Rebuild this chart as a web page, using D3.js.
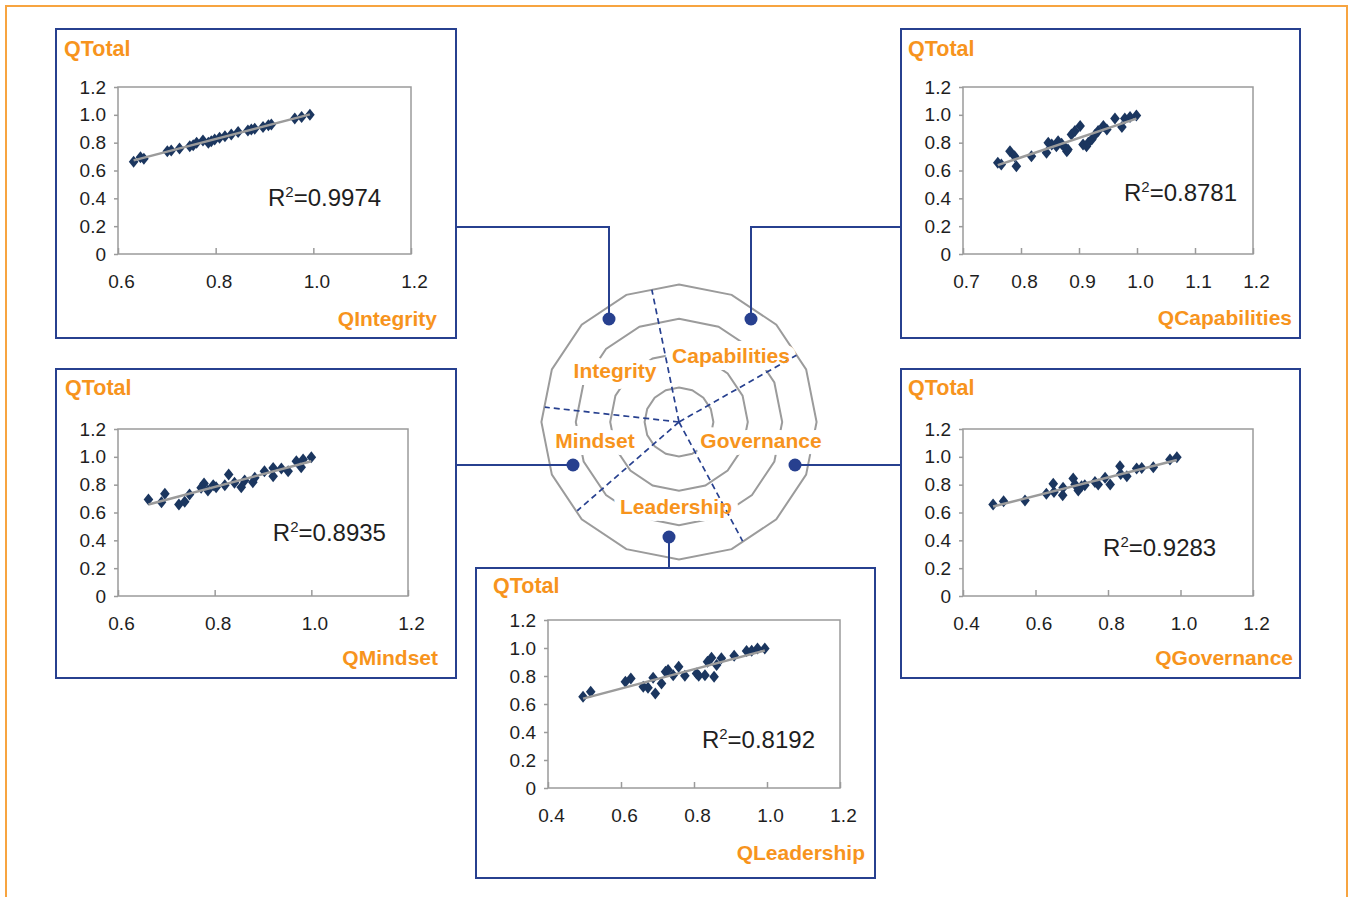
<!DOCTYPE html>
<html>
<head>
<meta charset="utf-8">
<script src="https://cdn.jsdelivr.net/npm/d3@7"></script>
<style>
  body { margin: 0; background: #fff; }
  svg { display: block; }
  text { font-family: "Liberation Sans", Arial, Helvetica, sans-serif; }
</style>
</head>
<body>
<svg id="chart" width="1350" height="897"></svg>
<script>
// ---- data -------------------------------------------------------------
const dimensions = ["Integrity", "Capabilities", "Mindset", "Governance", "Leadership"];
const axisTitles = ["QIntegrity", "QCapabilities", "QMindset", "QGovernance", "QLeadership"];
const rSquared = ["0.9974", "0.8781", "0.8935", "0.9283", "0.8192"];

// [dimension score, total score]
const integrityPoints = [
  [0.632, 0.662], [0.646, 0.696], [0.653, 0.684], [0.701, 0.739], [0.709, 0.744],
  [0.726, 0.758], [0.747, 0.775], [0.754, 0.782], [0.761, 0.799], [0.774, 0.816],
  [0.785, 0.799], [0.791, 0.811], [0.798, 0.823], [0.808, 0.835], [0.819, 0.847],
  [0.832, 0.859], [0.846, 0.876], [0.866, 0.888], [0.873, 0.895], [0.880, 0.900],
  [0.897, 0.912], [0.908, 0.926], [0.914, 0.931], [0.962, 0.974], [0.976, 0.984],
  [0.993, 1.000]
];
const capabilitiesPoints = [
  [0.760, 0.655], [0.766, 0.643], [0.781, 0.739], [0.789, 0.703], [0.792, 0.631],
  [0.818, 0.703], [0.844, 0.727], [0.847, 0.799], [0.853, 0.787], [0.861, 0.775],
  [0.864, 0.811], [0.870, 0.792], [0.876, 0.763], [0.879, 0.739], [0.881, 0.751],
  [0.887, 0.859], [0.893, 0.883], [0.902, 0.919], [0.907, 0.787], [0.913, 0.775],
  [0.916, 0.799], [0.922, 0.823], [0.928, 0.859], [0.933, 0.883], [0.942, 0.919],
  [0.948, 0.895], [0.962, 0.974], [0.974, 0.912], [0.979, 0.974], [0.988, 0.984],
  [0.999, 0.996]
];
const mindsetPoints = [
  [0.663, 0.693], [0.690, 0.674], [0.697, 0.734], [0.726, 0.657], [0.738, 0.677],
  [0.748, 0.729], [0.772, 0.777], [0.778, 0.808], [0.786, 0.758], [0.797, 0.796],
  [0.803, 0.782], [0.821, 0.796], [0.829, 0.873], [0.841, 0.813], [0.855, 0.782],
  [0.862, 0.830], [0.879, 0.818], [0.883, 0.849], [0.903, 0.896], [0.921, 0.861],
  [0.921, 0.920], [0.938, 0.916], [0.952, 0.896], [0.969, 0.968], [0.979, 0.925],
  [0.983, 0.980], [1.000, 0.997]
];
const governancePoints = [
  [0.483, 0.657], [0.512, 0.681], [0.571, 0.686], [0.630, 0.734], [0.649, 0.806],
  [0.651, 0.748], [0.675, 0.724], [0.676, 0.777], [0.704, 0.844], [0.709, 0.801],
  [0.718, 0.758], [0.727, 0.789], [0.736, 0.796], [0.764, 0.820], [0.773, 0.801],
  [0.792, 0.849], [0.806, 0.801], [0.833, 0.932], [0.835, 0.877], [0.852, 0.861],
  [0.879, 0.916], [0.893, 0.920], [0.925, 0.925], [0.971, 0.980], [0.990, 0.997]
];
const leadershipPoints = [
  [0.496, 0.651], [0.517, 0.687], [0.612, 0.759], [0.627, 0.782], [0.661, 0.723],
  [0.674, 0.716], [0.688, 0.787], [0.694, 0.675], [0.711, 0.747], [0.722, 0.830],
  [0.729, 0.842], [0.743, 0.806], [0.758, 0.866], [0.775, 0.802], [0.807, 0.818],
  [0.813, 0.802], [0.830, 0.806], [0.837, 0.902], [0.848, 0.930], [0.855, 0.794],
  [0.862, 0.878], [0.875, 0.926], [0.910, 0.945], [0.944, 0.978], [0.958, 0.980],
  [0.974, 0.997], [0.994, 0.997]
];

const xDomainIntegrity = [0.6, 1.2];
const xDomainCapabilities = [0.7, 1.2];
const xDomainMindset = [0.6, 1.2];
const xDomainGovernance = [0.4, 1.2];
const xDomainLeadership = [0.4, 1.2];
const xTicksIntegrity = [0.6, 0.8, 1.0, 1.2];
const xTicksCapabilities = [0.7, 0.8, 0.9, 1.0, 1.1, 1.2];
const xTicksMindset = [0.6, 0.8, 1.0, 1.2];
const xTicksGovernance = [0.4, 0.6, 0.8, 1.0, 1.2];
const xTicksLeadership = [0.4, 0.6, 0.8, 1.0, 1.2];
const yDomain = [0, 1.2];
const yTicks = [0, 0.2, 0.4, 0.6, 0.8, 1.0, 1.2];

// directions (degrees, clockwise from east) of the dashed dividers in the wheel
const spokeAngles = [-101.6, -29.6, 61.9, 138.9, 186.3];
const ringLevels = [1, 2, 3, 4];

// ---- styles -----------------------------------------------------------
const ORANGE = "#F7941D";
const NAVY = "#27408F";
const MARKER = "#1B365F";
const GREY = "#9B9B9B";
const TEXT = "#1E1E1E";

const svg = d3.select("#chart");

// outer frame of the figure
svg.append("rect")
  .attr("x", 6).attr("y", 6).attr("width", 1341).attr("height", 905)
  .attr("fill", "none").attr("stroke", "#F7A440").attr("stroke-width", 2);

// ---- wheel in the middle ---------------------------------------------
const center = { x: 679, y: 422 };
const ringStep = 34.4;
const rad = d => d * Math.PI / 180;
const polar = (angle, r) => [center.x + r * Math.cos(rad(angle)), center.y + r * Math.sin(rad(angle))];

const wheel = svg.append("g");
const ringSides = 16;
const ringLine = d3.line().curve(d3.curveLinearClosed);
ringLevels.forEach(level => {
  const pts = d3.range(ringSides).map(i => polar(-90 + i * 360 / ringSides, level * ringStep));
  wheel.append("path")
    .attr("d", ringLine(pts))
    .attr("fill", "none").attr("stroke", GREY).attr("stroke-width", 2);
});

const wheelLabels = [
  { name: "Integrity", x: 615, y: 378 },
  { name: "Capabilities", x: 731, y: 363 },
  { name: "Mindset", x: 595, y: 448 },
  { name: "Governance", x: 761, y: 448 },
  { name: "Leadership", x: 676, y: 514 }
];
const labelById = new Map(wheelLabels.map(d => [d.name, d]));

// white halo that opens the rings around each label
wheel.selectAll("text.halo")
  .data(dimensions)
  .join("text")
  .attr("class", "halo")
  .attr("x", d => labelById.get(d).x)
  .attr("y", d => labelById.get(d).y)
  .attr("text-anchor", "middle")
  .attr("font-size", 21).attr("font-weight", "bold")
  .attr("fill", "#fff").attr("stroke", "#fff").attr("stroke-width", 14)
  .attr("stroke-linejoin", "round")
  .text(d => d);

// dashed dividers
wheel.selectAll("line.spoke")
  .data(spokeAngles)
  .join("line")
  .attr("class", "spoke")
  .attr("x1", center.x).attr("y1", center.y)
  .attr("x2", d => polar(d, 135)[0])
  .attr("y2", d => polar(d, 135)[1])
  .attr("stroke", NAVY).attr("stroke-width", 1.7)
  .attr("stroke-dasharray", "6,4");

wheel.selectAll("text.dim")
  .data(dimensions)
  .join("text")
  .attr("class", "dim")
  .attr("x", d => labelById.get(d).x)
  .attr("y", d => labelById.get(d).y)
  .attr("text-anchor", "middle")
  .attr("font-size", 21).attr("font-weight", "bold")
  .attr("fill", ORANGE)
  .text(d => d);

// ---- scatter panels ---------------------------------------------------
const panels = [
  { pts: integrityPoints, dom: xDomainIntegrity, ticks: xTicksIntegrity,
    x: 56, y: 29, w: 400, h: 309, plot: { l: 62, t: 58, w: 293, h: 167 },
    title: [8, 27], axisEnd: [381, 297], r2: [0.512, 0.713] },
  { pts: capabilitiesPoints, dom: xDomainCapabilities, ticks: xTicksCapabilities,
    x: 901, y: 29, w: 399, h: 309, plot: { l: 62, t: 58, w: 290, h: 167 },
    title: [7, 27], axisEnd: [391, 296], r2: [0.555, 0.683] },
  { pts: mindsetPoints, dom: xDomainMindset, ticks: xTicksMindset,
    x: 56, y: 369, w: 400, h: 309, plot: { l: 62, t: 60, w: 290, h: 167 },
    title: [9, 26], axisEnd: [382, 296], r2: [0.534, 0.67] },
  { pts: governancePoints, dom: xDomainGovernance, ticks: xTicksGovernance,
    x: 901, y: 369, w: 399, h: 309, plot: { l: 62, t: 60, w: 290, h: 167 },
    title: [7, 26], axisEnd: [392, 296], r2: [0.483, 0.76] },
  { pts: leadershipPoints, dom: xDomainLeadership, ticks: xTicksLeadership,
    x: 476, y: 568, w: 399, h: 310, plot: { l: 72, t: 52, w: 292, h: 168 },
    title: [17, 25], axisEnd: [389, 292], r2: [0.527, 0.762] }
];

const diamond = "M0,-6L4.8,0L0,6L-4.8,0Z";
const fmtY = d => d === 0 ? "0" : d3.format(".1f")(d);
const fmtX = d3.format(".1f");

panels.forEach((p, i) => {
  const g = svg.append("g").attr("transform", `translate(${p.x},${p.y})`);
  g.append("rect")
    .attr("width", p.w).attr("height", p.h)
    .attr("fill", "#fff").attr("stroke", NAVY).attr("stroke-width", 2);

  g.append("text")
    .attr("x", p.title[0]).attr("y", p.title[1])
    .attr("font-size", 21.5).attr("font-weight", "bold").attr("fill", ORANGE)
    .text("QTotal");
  g.append("text")
    .attr("x", p.axisEnd[0]).attr("y", p.axisEnd[1])
    .attr("text-anchor", "end")
    .attr("font-size", 21).attr("font-weight", "bold").attr("fill", ORANGE)
    .text(axisTitles[i]);

  const pg = g.append("g").attr("transform", `translate(${p.plot.l},${p.plot.t})`);
  const x = d3.scaleLinear().domain(p.dom).range([0, p.plot.w]);
  const y = d3.scaleLinear().domain(yDomain).range([p.plot.h, 0]);

  // y axis: labels and short outward ticks
  const yAx = pg.append("g").call(d3.axisLeft(y).tickValues(yTicks).tickFormat(fmtY).tickSize(4).tickPadding(8));
  yAx.select(".domain").remove();
  yAx.selectAll("line").attr("stroke", GREY).attr("stroke-width", 1.5);
  yAx.selectAll("text").attr("font-size", 19).attr("fill", TEXT)
    .attr("font-family", "\"Liberation Sans\", Arial, sans-serif");

  // x axis: labels below, ticks pointing into the plot
  const xAx = pg.append("g").attr("transform", `translate(0,${p.plot.h})`)
    .call(d3.axisBottom(x).tickValues(p.ticks).tickFormat(fmtX).tickSize(-6).tickPadding(21));
  xAx.select(".domain").remove();
  xAx.selectAll("line").attr("stroke", GREY).attr("stroke-width", 1.5);
  xAx.selectAll("text").attr("font-size", 19).attr("fill", TEXT)
    .attr("dx", 3)
    .attr("font-family", "\"Liberation Sans\", Arial, sans-serif");

  pg.append("rect")
    .attr("width", p.plot.w).attr("height", p.plot.h)
    .attr("fill", "none").attr("stroke", GREY).attr("stroke-width", 1.5);

  pg.selectAll("path.pt")
    .data(p.pts)
    .join("path")
    .attr("class", "pt")
    .attr("d", diamond)
    .attr("transform", d => `translate(${x(d[0])},${y(d[1])})`)
    .attr("fill", MARKER);

  // least-squares trend line over the observed range
  const mx = d3.mean(p.pts, d => d[0]);
  const my = d3.mean(p.pts, d => d[1]);
  const slope = d3.sum(p.pts, d => (d[0] - mx) * (d[1] - my)) / d3.sum(p.pts, d => (d[0] - mx) ** 2);
  const icpt = my - slope * mx;
  const [x0, x1] = d3.extent(p.pts, d => d[0]);
  pg.append("line")
    .attr("x1", x(x0)).attr("y1", y(icpt + slope * x0))
    .attr("x2", x(x1)).attr("y2", y(icpt + slope * x1))
    .attr("stroke", GREY).attr("stroke-width", 2.5);

  const r2 = pg.append("text")
    .attr("x", p.r2[0] * p.plot.w).attr("y", p.r2[1] * p.plot.h)
    .attr("font-size", 24).attr("fill", TEXT);
  r2.append("tspan").text("R");
  r2.append("tspan").attr("font-size", 15).attr("dy", -9).text("2");
  r2.append("tspan").attr("dy", 9).text("=" + rSquared[i]);
});

// ---- connectors from the wheel to each panel -------------------------
const connectors = [
  { dot: [609, 319], path: [[609, 319], [609, 227], [456, 227]] },
  { dot: [751, 319], path: [[751, 319], [751, 227], [901, 227]] },
  { dot: [573, 465], path: [[573, 465], [456, 465]] },
  { dot: [795, 465], path: [[795, 465], [901, 465]] },
  { dot: [669, 537], path: [[669, 537], [669, 568]] }
];
const conn = svg.append("g");
conn.selectAll("path")
  .data(connectors)
  .join("path")
  .attr("d", d => d3.line()(d.path))
  .attr("fill", "none").attr("stroke", NAVY).attr("stroke-width", 2);
conn.selectAll("circle")
  .data(connectors)
  .join("circle")
  .attr("cx", d => d.dot[0]).attr("cy", d => d.dot[1]).attr("r", 6.5)
  .attr("fill", NAVY);
</script>
</body>
</html>
